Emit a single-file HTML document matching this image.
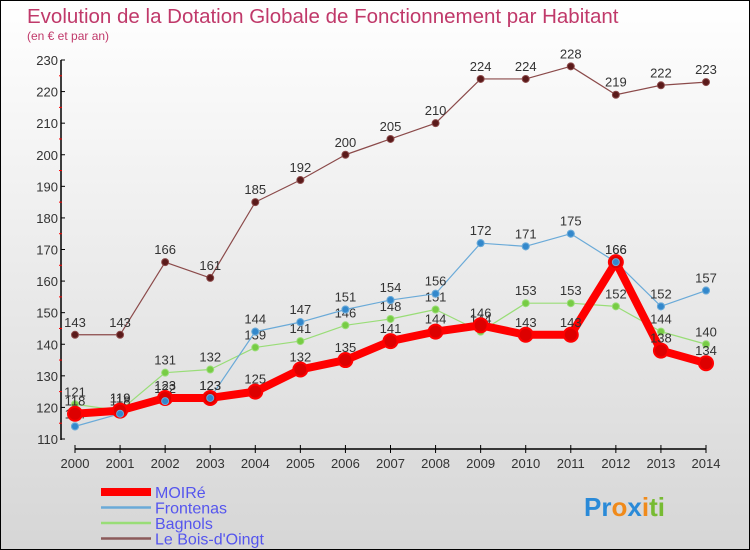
<!DOCTYPE html>
<html><head><meta charset="utf-8"><style>
html,body{margin:0;padding:0}
body{width:750px;height:550px;overflow:hidden;font-family:"Liberation Sans",sans-serif}
#wrap{position:relative;width:748px;height:548px;border:1px solid #000;background:linear-gradient(#ffffff,#d6d6d6)}
</style></head><body>
<div id="wrap">
<svg id="chart" width="748" height="548" style="position:absolute;left:0;top:0;font-family:'Liberation Sans',sans-serif"></svg>
</div>
<script>
const years=[2000,2001,2002,2003,2004,2005,2006,2007,2008,2009,2010,2011,2012,2013,2014];
const moire=[118,119,123,123,125,132,135,141,144,146,143,143,166,138,134];
const frontenas=[114,118,122,123,144,147,151,154,156,172,171,175,166,152,157];
const bagnols=[121,119,131,132,139,141,146,148,151,144,153,153,152,144,140];
const bois=[143,143,166,161,185,192,200,205,210,224,224,228,219,222,223];
const yTicks=[110,120,130,140,150,160,170,180,190,200,210,220,230];
const seriesNames=["MOIRé","Frontenas","Bagnols","Le Bois-d'Oingt"];

const svg=document.getElementById('chart');
const NS='http://www.w3.org/2000/svg';
function x(i){return 74+i*(705-74)/(years.length-1);}
function y(v){return 438-(v-110)*(438-59)/120;}
function mk(t,a,name,par){const e=document.createElementNS(NS,t);for(const k in a)e.setAttribute(k,a[k]);


(par||svg).appendChild(e);return e;}
function txt(s,a,name,par){const e=mk('text',a,name,par);e.textContent=s;return e;}

txt('Evolution de la Dotation Globale de Fonctionnement par Habitant',{x:26,y:22,'font-size':20.5,fill:'#c0396a'},'chart-title');
txt('(en € et par an)',{x:26,y:39,'font-size':12,fill:'#c0396a'},'chart-subtitle');

mk('line',{x1:60,y1:59,x2:60,y2:439,stroke:'#000','stroke-width':1.5},'y-axis');
mk('line',{x1:74,y1:448,x2:705,y2:448,stroke:'#000','stroke-width':1.5},'x-axis');
yTicks.forEach((v,k)=>{
  mk('line',{x1:60,y1:y(v),x2:64,y2:y(v),stroke:'#000'},'y-tick');
  if(k<yTicks.length-1) mk('line',{x1:58,y1:y(v+5),x2:61,y2:y(v+5),stroke:'#f00'},'y-minor-tick');
  txt(String(v),{x:57,y:y(v)+5,'font-size':13,fill:'#333','text-anchor':'end'},'y-tick-label');
});
years.forEach((yr,i)=>{
  mk('line',{x1:x(i),y1:444,x2:x(i),y2:452,stroke:'#000'},'x-tick');
  txt(String(yr),{x:x(i),y:467,'font-size':13,fill:'#333','text-anchor':'middle'},'x-tick-label');
});

function drawSeries(data,color,dot,w,r,name){
  const g=mk('g',{},name+'-series');
  mk('polyline',{points:data.map((v,i)=>x(i)+','+y(v)).join(' '),fill:'none',stroke:color,'stroke-width':w,'stroke-linejoin':'round'},name+'-line',g);
  data.forEach((v,i)=>{
    mk('circle',{cx:x(i),cy:y(v),r:r,fill:dot,stroke:color,'stroke-width':r>5?2:1},name+'-point',g);
    txt(String(v),{x:x(i),y:y(v)-8,'font-size':13,fill:'#333','text-anchor':'middle'},name+'-value-label',g);
  });
}
drawSeries(bois,'#8b4a4a','#5a1a1a',1.2,3.5,'le-bois-doingt');
drawSeries(bagnols,'#99dd77','#77cc44',1.2,3.5,'bagnols');
drawSeries(frontenas,'#6aaad8','#3388cc',1.2,3.5,'frontenas');
drawSeries(moire,'#ff0000','#dd0000',8,7,'moire');
frontenas.forEach((v,i)=>mk('circle',{cx:x(i),cy:y(v),r:3.5,fill:'#3388cc',stroke:'#6aaad8'},'frontenas-point-top'));

const lg=mk('g',{},'legend');
const lc=['#ff0000','#6aaad8','#99dd77','#8b5a5a'],lw=[8,2.5,2.5,2.5];
seriesNames.forEach((n,k)=>{
  const yy=491+k*15.5;
  mk('line',{x1:100,y1:yy,x2:150,y2:yy,stroke:lc[k],'stroke-width':lw[k]},'legend-swatch',lg);
  txt(n,{x:154,y:yy+6,'font-size':16,fill:'#5555ee'},'legend-entry',lg);
});
const lo=txt('',{x:583,y:515,'font-size':26,'font-weight':'bold'},'proxiti-logo');
[['P','#2a8ad8'],['r','#2a8ad8'],['o','#f08a1a'],['x','#2a8ad8'],['i','#f08a1a'],['t','#77bb33'],['i','#77bb33']].forEach(([c,col])=>{
  const s=document.createElementNS(NS,'tspan');s.setAttribute('fill',col);s.textContent=c;lo.appendChild(s);});
</script>
</body></html>
